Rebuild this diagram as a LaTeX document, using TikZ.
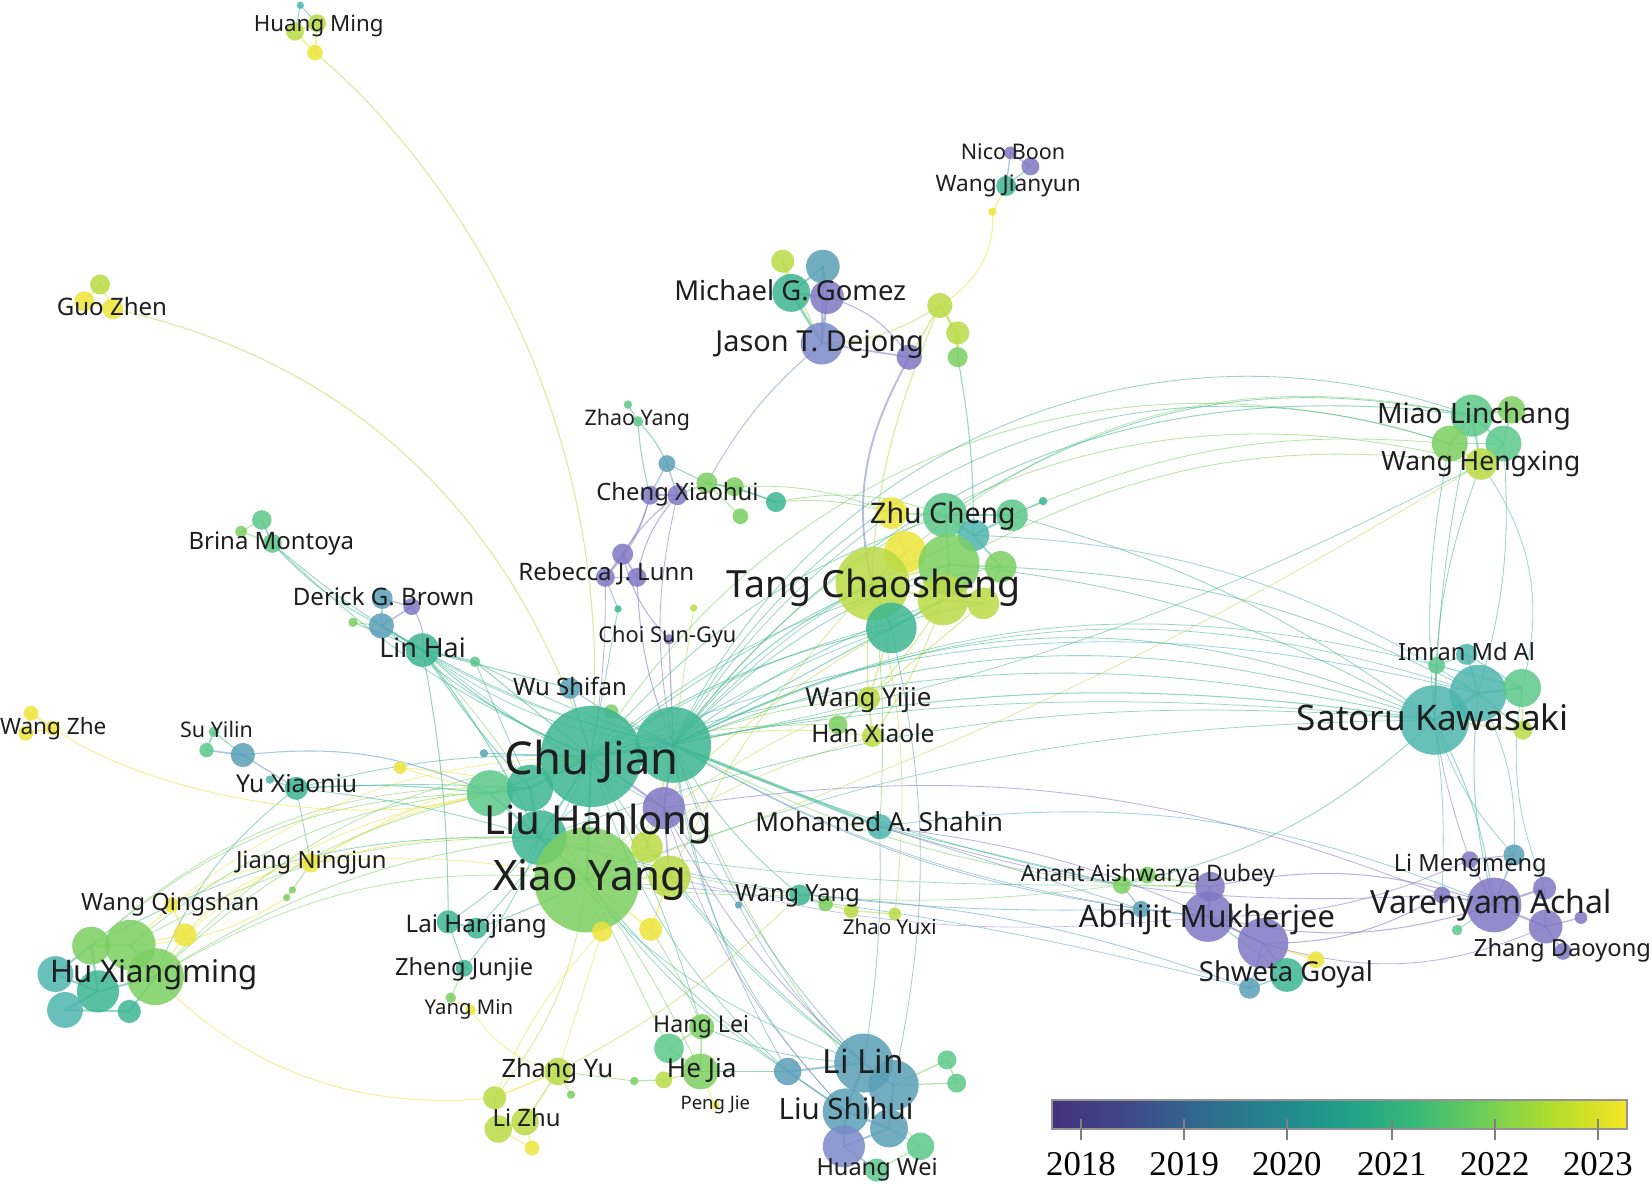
\documentclass[tikz,border=0pt]{standalone}
\usepackage{fontspec}
\usepackage{graphicx}
\newfontfamily\lblfont{Noto Sans}
\newfontfamily\numfont{Liberation Serif}
\definecolor{vpur}{HTML}{8078C4}
\definecolor{vblu}{HTML}{7A8AC8}
\definecolor{vtb}{HTML}{5A9FB8}
\definecolor{vteal}{HTML}{4DB5AE}
\definecolor{vtg}{HTML}{3DB692}
\definecolor{vgrn}{HTML}{5CC88A}
\definecolor{vlg}{HTML}{7CCF62}
\definecolor{vyg}{HTML}{B9DB45}
\definecolor{vyel}{HTML}{EDE43A}
\definecolor{lblc}{HTML}{1E1E1E}
\definecolor{c0}{HTML}{46327E}
\definecolor{c1}{HTML}{3F4788}
\definecolor{c2}{HTML}{31688E}
\definecolor{c3}{HTML}{26828E}
\definecolor{c4}{HTML}{1F9E89}
\definecolor{c5}{HTML}{35B779}
\definecolor{c6}{HTML}{6ECE58}
\definecolor{c7}{HTML}{B5DE2B}
\definecolor{c8}{HTML}{F4E524}
\pgfdeclarehorizontalshading{viridis}{100bp}{color(0bp)=(c0); color(25bp)=(c0); color(31.25bp)=(c1); color(37.5bp)=(c2); color(43.75bp)=(c3); color(50bp)=(c4); color(56.25bp)=(c5); color(62.5bp)=(c6); color(68.75bp)=(c7); color(75bp)=(c8); color(100bp)=(c8)}
\pgfdeclarelayer{back}
\pgfdeclarelayer{bg}
\pgfsetlayers{back,bg,main}
\tikzset{
  nd/.style={circle, inner sep=0pt, draw=none, fill opacity=0.85},
  ed/.style={draw=#1, draw opacity=0.55, line cap=round},
  lab/.style={anchor=base, inner sep=0pt, text=lblc, font=\lblfont},
  num/.style={anchor=base, inner sep=0pt, text=black, font=\numfont\fontsize{33}{36}\selectfont},
}
\newcommand\nd[5]{\node[nd, fill=#5, minimum size={2*#4}] (#1) at (#2,#3) {};}
\newcommand\lbl[5]{\node[lab] (#1) at (#2,#3) {\resizebox{#4pt}{!}{#5}};}
\newcommand\edges[2]{\foreach \a/\b/\k/\w in {#2} {\draw[ed=#1, line width=\w pt] (\a.center) to[bend left=\k] (\b.center);}}
\begin{document}
\begin{tikzpicture}[x=1pt, y=-1pt]
\begin{pgfonlayer}{back}
\fill[white] (0,0) rectangle (1568,1129);
\end{pgfonlayer}
\useasboundingbox (0,0) rectangle (1568,1129);
% ---------------- nodes ----------------
\nd{hm1}{285}{5}{3.5}{vteal}
\nd{hm2}{280}{30}{8.5}{vyg}
\nd{hm3}{301}{22}{8.5}{vyg}
\nd{hm4}{299}{50}{7.5}{vyel}
\nd{gz1}{95}{270}{9.5}{vyg}
\nd{gz2}{80}{286}{9.5}{vyel}
\nd{gz3}{107}{293}{10}{vyel}
\nd{nb1}{959}{145}{6}{vpur}
\nd{nb2}{978}{158}{8.5}{vpur}
\nd{wj}{955}{176.5}{9.5}{vtg}
\nd{wjy}{942}{201}{4}{vyel}
\nd{tc1}{892}{290}{12}{vyg}
\nd{tc2}{909}{316}{11}{vyg}
\nd{tc3}{909}{339}{9.5}{vlg}
\nd{jp}{863}{339}{12}{vpur}
\nd{mg1}{743}{248}{11}{vyg}
\nd{mg2}{781}{253}{16}{vtb}
\nd{mg3}{751}{278}{18}{vtg}
\nd{mg4}{785}{282}{16}{vpur}
\nd{jd}{780}{326}{20}{vblu}
\nd{zy1}{596}{384}{4}{vgrn}
\nd{zy2}{605.5}{400}{5}{vgrn}
\nd{cx0}{633}{440}{8}{vtb}
\nd{cx1}{617}{470}{9}{vpur}
\nd{cx2}{643}{470}{9.5}{vpur}
\nd{cx3}{671}{458.5}{10}{vlg}
\nd{cx4}{697}{462}{9}{vlg}
\nd{cx5}{736.5}{476.5}{9.5}{vtg}
\nd{cx6}{702.7}{490}{7.5}{vlg}
\nd{tdot}{990}{475.6}{4}{vtg}
\nd{rb1}{591}{526}{10}{vpur}
\nd{rb2}{574.5}{548}{9}{vpur}
\nd{rb3}{604.6}{548}{9}{vpur}
\nd{rbt}{586.6}{578}{3.5}{vtg}
\nd{rby}{658.4}{577}{3.5}{vyg}
\nd{cs}{634.9}{606.8}{5}{vpur}
\nd{zc1}{846}{487}{15}{vyel}
\nd{zc2}{897}{489}{21}{vgrn}
\nd{zc3}{960.5}{489}{15}{vgrn}
\nd{zc4}{924}{508}{15}{vteal}
\nd{ts1}{859}{524}{20}{vyel}
\nd{ts}{828}{554}{35}{vyg}
\nd{ts2}{900.7}{536}{29}{vlg}
\nd{ts3}{949.8}{538}{15}{vlg}
\nd{ts4}{895}{569.5}{24}{vyg}
\nd{ts5}{933.4}{572.6}{15}{vyg}
\nd{ts6}{846}{596}{24}{vtg}
\nd{wyj}{824.4}{662.8}{11}{vyg}
\nd{wyj2}{795.4}{688}{9}{vlg}
\nd{hxl}{828}{699}{10}{vyg}
\nd{ms}{835}{784.6}{12}{vteal}
\nd{bm1}{248.5}{493.5}{9.3}{vgrn}
\nd{bm2}{228.8}{504.6}{5.5}{vlg}
\nd{bm3}{258.4}{515.7}{9}{vgrn}
\nd{db1}{362.7}{568}{10}{vtb}
\nd{db2}{390.8}{575.8}{8}{vpur}
\nd{db3}{335}{590.7}{4.5}{vlg}
\nd{db4}{362}{594}{12}{vtb}
\nd{lh}{401}{617}{16}{vtg}
\nd{lhg}{450.8}{628}{5}{vgrn}
\nd{ws}{541}{653.3}{10}{vtb}
\nd{wsg}{580}{675.5}{7}{vlg}
\nd{wz1}{29.5}{677}{7}{vyel}
\nd{wz2}{50.2}{691}{7}{vyel}
\nd{wz3}{24.4}{696}{7}{vyel}
\nd{sy1}{203}{694.5}{5}{vgrn}
\nd{sy2}{196}{712}{6.8}{vgrn}
\nd{sy3}{230.5}{716.6}{11.5}{vtb}
\nd{yx0}{256}{740}{4}{vteal}
\nd{yx}{281.3}{748.2}{11}{vtg}
\nd{ysm}{379.7}{728.6}{6}{vyel}
\nd{bsm}{459.3}{715}{4}{vtb}
\nd{cj}{561}{718}{48}{vtg}
\nd{cj2}{639}{707}{36}{vtg}
\nd{cj3}{465}{753}{22}{vgrn}
\nd{cj4}{503}{748}{22}{vtg}
\nd{lhp}{630}{767}{20}{vpur}
\nd{lht}{512}{795}{26}{vtg}
\nd{xy}{557}{835}{50}{vlg}
\nd{xy2}{635.5}{832}{20}{vyg}
\nd{xy3}{614}{804}{15}{vyg}
\nd{xy4}{571.4}{884.3}{9.5}{vyel}
\nd{xy5}{617.6}{882}{11}{vyel}
\nd{jn}{295}{819}{9}{vyel}
\nd{jng1}{277.5}{844.7}{3.5}{vlg}
\nd{jng2}{272}{852}{3.5}{vlg}
\nd{wq}{162.7}{859}{7}{vyel}
\nd{wq2}{175.6}{887.4}{11}{vyel}
\nd{hx1}{86.5}{897.6}{18}{vlg}
\nd{hx2}{123.7}{897}{24}{vlg}
\nd{hx3}{147.5}{927}{27}{vlg}
\nd{hx4}{52.6}{924.5}{17}{vteal}
\nd{hx5}{93}{941}{20}{vtg}
\nd{hx6}{61.7}{958.6}{17}{vteal}
\nd{hx7}{122.7}{960}{11}{vtg}
\nd{lj1}{425.5}{875}{11}{vtg}
\nd{lj2}{452.5}{881}{10}{vtg}
\nd{zj}{440.6}{919}{8}{vtg}
\nd{ym1}{427.8}{947}{5}{vlg}
\nd{ym2}{446.8}{958.6}{5}{vyel}
\nd{wy0}{701}{859}{3.5}{vtb}
\nd{wy}{759}{849.5}{10}{vtg}
\nd{wy2}{783.6}{858}{7}{vlg}
\nd{wy3}{808}{864.4}{7}{vyg}
\nd{zyx}{849.3}{867.5}{6}{vyg}
\nd{zyu}{529.6}{1017}{13}{vyg}
\nd{zyu2}{542}{1039}{4}{vlg}
\nd{lz1}{469.5}{1042}{11}{vyg}
\nd{lz2}{472.9}{1071.6}{13}{vyg}
\nd{lz3}{498.3}{1064.6}{13}{vyg}
\nd{lz4}{505}{1089.7}{7}{vyel}
\nd{hl1}{666}{974.5}{12}{vlg}
\nd{hl2}{635}{995}{14}{vgrn}
\nd{hj}{664.8}{1017}{17}{vlg}
\nd{hj2}{630}{1025}{8}{vyg}
\nd{hj3}{602}{1026}{4}{vlg}
\nd{pj}{678.6}{1048.8}{4}{vyel}
\nd{ll0}{747.6}{1017}{13}{vtb}
\nd{ll}{819.8}{1009}{28}{vtb}
\nd{ll2}{848}{1030}{24}{vtb}
\nd{ls}{802.8}{1055}{22}{vtb}
\nd{ls2}{843.8}{1071}{18}{vtb}
\nd{hw0}{801}{1088}{20}{vblu}
\nd{hw1}{873.7}{1088}{13}{vgrn}
\nd{llg1}{898.8}{1006}{9}{vgrn}
\nd{llg2}{908}{1028}{9}{vgrn}
\nd{hw}{832}{1110.5}{11}{vgrn}
\nd{ml1}{1397}{394.5}{20}{vgrn}
\nd{ml2}{1434.7}{389}{13}{vlg}
\nd{ml3}{1376}{421}{17}{vlg}
\nd{ml4}{1427}{421}{17}{vgrn}
\nd{whx}{1405.6}{440.4}{15}{vyg}
\nd{im1}{1392}{621}{10}{vteal}
\nd{im2}{1363.5}{631.5}{8}{vgrn}
\nd{sk}{1361.5}{683.4}{33}{vteal}
\nd{sk2}{1403}{658}{27}{vteal}
\nd{sk3}{1444.6}{653}{18}{vgrn}
\nd{sk4}{1445.5}{693}{9}{vyg}
\nd{lm1}{1437}{811.5}{10}{vtb}
\nd{lm2}{1395}{816}{8}{vpur}
\nd{va}{1418}{859}{26}{vpur}
\nd{va2}{1466}{843}{11}{vpur}
\nd{va3}{1467}{879.5}{16}{vpur}
\nd{va4}{1500.6}{871}{6}{vpur}
\nd{va5}{1368.6}{849.5}{8}{vpur}
\nd{zd}{1483.5}{903}{8}{vpur}
\nd{vag}{1383}{882.7}{5}{vgrn}
\nd{ad1}{1064.7}{840}{8.5}{vlg}
\nd{ad2}{1089}{830.5}{8}{vlg}
\nd{ab1}{1148.5}{841.6}{14}{vpur}
\nd{ab0}{1083}{863}{8}{vtb}
\nd{ab}{1146.6}{870}{24}{vpur}
\nd{ab2}{1198.8}{895.3}{24}{vpur}
\nd{sg}{1249}{911}{8}{vyel}
\nd{sg2}{1221.5}{925.4}{16}{vtg}
\nd{sg3}{1186}{938}{10}{vtb}
% ---------------- edges ----------------
\begin{pgfonlayer}{bg}
\edges{vyel}{hm2/hm4/0/1.5, hm3/hm4/0/1.5, gz1/gz2/0/1.5, gz1/gz3/0/1.5, gz2/gz3/0/1.5, wz1/wz2/0/1.5, wz2/wz3/0/1.5, wz1/wz3/0/1.5, wj/wjy/0/1, wq/wq2/0/1.5, wq/hx2/0/1, wq2/hx3/0/1, wq2/hx2/0/1, jn/cj3/10/0.8, jn/lht/8/0.8, jn/xy/8/0.8, wq/jn/15/0.8, wq2/jn/20/0.8, wq2/cj3/15/0.8, ysm/cj3/0/0.8, ysm/cj4/5/0.8, ym1/ym2/0/1, ym2/zyu/-20/0.8, xy/xy4/0/1.5, xy/xy5/0/1.5, xy4/zyu/0/0.8, xy4/lz1/-10/0.8, lz3/lz4/0/1, lz2/lz4/0/1, hj/pj/0/1, xy5/xy2/0/1.5, ts1/zc1/0/1.5, ts/ts1/0/1.5, jng2/hx2/15/0.8, zyu/lz1/0/1.5, sg/ab2/0/1.5, sg/sg2/0/1, wq/cj/18/0.7, jn/cj/10/0.7}
\edges{vyg}{hm2/hm3/0/1.5, mg1/mg3/0/2, mg1/jd/0/1.2, tc1/tc2/0/2, tc2/tc3/0/2, tc1/tc3/15/1.2, jp/tc1/0/1.5, jd/tc1/-15/1, ts/ts2/0/2, ts2/ts4/0/2, ts4/ts5/0/2, ts/ts4/0/2, ts/wyj/-5/1, ts4/wyj/5/1, ts6/wyj/0/1.2, ts4/hxl/8/1, wyj/hxl/0/1.5, hxl/cj2/-10/0.8, ts4/xy/-10/0.8, ts/xy2/-8/0.8, zyu/lz3/0/1.5, lz1/lz2/0/1.5, lz2/lz3/0/1.5, zyu/zyu2/0/1, hj2/hj/0/1.2, wy2/wy3/0/1.5, wy3/zyx/0/1.2, zyu/wy/-8/0.8, zyx/ts/-10/0.8, sk3/sk4/0/1.5, sk/sk4/0/1.5, ml3/whx/0/2, ml4/whx/0/2, xy/xy2/0/2, xy/xy3/0/2, cj2/xy3/0/1.5, lz1/xy/-15/0.8, ts5/wyj/0/1, rby/cj2/0/0.8, hxl/xy/-10/0.7, wyj/xy/-10/0.7, xy/whx/-6/0.7}
\edges{vlg}{cx3/cx4/0/1.5, cx6/cx3/0/1, cx2/cx3/0/1.5, cx5/zc1/10/0.8, cx5/zc2/15/0.8, cx4/zc1/12/0.8, ts2/ts3/0/1.5, ts3/ts5/0/1.5, zc2/ts2/0/2, zc1/zc2/0/1.5, wyj2/wyj/0/1.2, wyj/cj2/-8/0.8, wyj2/cj/-8/0.8, zc3/ml3/14/0.8, ts2/whx/18/0.8, cj2/whx/34/0.8, cj/ml3/38/0.8, bm2/bm1/0/1, bm2/bm3/0/1, db3/db4/0/1, xy5/hl1/5/0.8, xy/hj/5/0.8, xy/hl2/0/0.8, hj3/hj2/0/1, hj3/zyu/0/0.8, hj/hl1/0/1.5, hl1/hl2/0/1.5, hl2/hj/0/1.5, wsg/cj2/0/1, wsg/cj/0/1, jn/jng1/0/1, jng1/jng2/0/1, hx1/hx2/0/2, hx2/hx3/0/2, hx3/cj3/15/0.8, hx2/cj4/18/0.8, hx1/cj3/20/0.8, hx3/lht/12/0.8, ad1/ad2/0/1.5, ad1/ab1/0/1.5, ad2/ab1/0/1.5, ad1/cj2/10/0.8, wy/wy2/0/1.5, wy/xy/5/0.8, ms/ts/-5/0.8, cj/cj3/0/2, ml1/ml3/0/2, ml2/ml1/0/2, sk3/sk2/0/2, im2/sk/0/1.5, ym1/zj/0/1, ll2/llg1/0/1.2, llg1/llg2/0/1.2, ll2/llg2/0/1.2, hw1/hw/0/1.2, ls2/hw1/0/1.2, cj2/hw1/-10/0.8, hx3/cj/20/0.7, hx2/lht/15/0.7, hx3/xy/18/0.7, hx1/cj4/22/0.7, ad1/lht/12/0.7, ts/ml1/28/0.7, lh/xy/5/0.7}
\edges{vtg}{cj/cj2/0/3, cj/cj4/0/2, cj/lht/0/2, cj/xy/0/2.5, lht/xy/0/2, cj4/lht/0/2, cj3/lht/0/2, cj4/cj3/0/2, mg2/mg3/0/2, mg3/jd/0/2.5, mg3/mg4/0/2, zy2/cx0/10/1, zy1/zy2/0/1, zy2/cx1/-5/1, cx0/cx3/0/1, cx3/cx5/5/1, cx4/cx5/0/1.2, zc3/tdot/0/1, zc2/zc3/0/2, zc2/zc4/0/2, zc3/zc4/0/2, ts/ts6/0/2, ts6/ts4/0/2, zc4/ts3/0/1.5, ts6/cj/-10/1, ts/cj2/-12/1, zc2/cj/-15/0.8, ts2/cj2/-12/0.8, ts2/sk/12/0.8, zc3/sk/10/0.8, ts3/sk2/12/0.8, zc2/ml1/22/0.8, cj2/ml1/30/0.9, cj2/ml1/42/0.8, cj2/sk/10/1, cj2/sk/20/0.8, cj2/sk/25/0.8, cj/sk/15/0.8, cj/sk/8/0.7, cj2/sk2/22/0.7, lht/sk/12/0.7, cj2/im2/20/0.7, xy/sk/10/0.7, cj2/whx/-8/0.7, tc3/zc4/5/1, bm1/bm3/0/1.5, bm3/db4/-10/0.8, bm3/lh/-5/0.8, bm3/cj/-10/0.8, db3/lh/0/1, db4/lh/0/2, lh/lhg/0/1.5, lh/cj/-10/1, lh/cj4/-5/1, lh/lht/5/1.2, lhg/cj/0/1, lhg/cj2/-5/0.8, lh/ws/0/1, db4/cj/-8/0.8, lh/lj1/5/1, lh/cj2/-8/0.8, lh/cj2/-15/0.7, lh/lhp/-5/0.7, db4/cj2/-10/0.7, lhg/cj4/0/0.8, yx/cj3/5/1, yx/cj/8/0.8, yx/lht/5/0.8, yx/hx3/-15/0.8, yx/jn/0/0.8, yx/cj4/3/0.8, sy1/sy2/0/1.5, sy1/sy3/0/1, hx1/hx5/0/2, hx4/hx5/0/2, hx5/hx6/0/2, hx5/hx3/0/2, hx3/hx7/0/2, hx6/hx7/0/2, hx1/hx4/0/2, hx1/lht/15/0.8, lj1/lj2/0/1.5, lj1/lht/-10/0.8, lj2/xy/-5/1, lj1/zj/0/1, zj/lht/-10/0.8, lj2/cj/-10/0.8, hj/ll0/0/0.8, hl1/ll/-10/0.8, cj/hl1/5/0.8, cj/ll/-10/0.8, xy/ls/-8/0.8, wy/cj2/10/0.8, ms/cj2/0/3, sg2/sg3/0/1.2, ab2/sg2/0/1.5, ab/sg2/0/1, sk/ad1/15/0.8, cj2/ad1/-5/0.8, im1/im2/0/1, im2/sk3/0/1, sk2/ml4/-10/0.8, sk/whx/10/0.8, sk/ml3/8/0.8, sk/ml1/5/0.8, cj2/ml3/40/0.8, rbt/cj/0/0.8, ts6/cj2/0/1, ts/cj/-5/0.8, zc1/cj2/-10/0.7, ts4/cj2/-8/0.8, ts5/cj/-10/0.7, zc4/cj2/-12/0.7, ts3/cj/-15/0.7, ts6/lht/-10/0.7, cj/ll0/-15/0.7, lht/ll/-15/0.7, xy/ll0/-10/0.7, cj2/ls/-18/0.7, xy3/ll/-8/0.7, ms/ad1/0/0.8, ad1/lht/5/0.6}
\edges{vteal}{hm1/hm2/0/1, hm1/hm3/0/1, sk/sk2/0/3, sk2/sk3/0/2, sk2/sk4/0/1.5, im1/sk2/0/1.5, im1/sk3/0/1.2, sk/va/10/1, sk2/va/-10/1, sk/lm1/-12/0.8, sk2/lm1/15/0.8, sk3/va2/-15/0.8, sk/va5/5/0.8, sk3/whx/-25/0.8, yx0/yx/0/1, zc4/sk2/15/0.8, cj/sk2/18/0.8, ms/va/15/0.8}
\edges{vtb}{mg2/mg4/0/2, mg2/jd/0/2, nb1/wj/0/1.2, nb2/wj/0/1.2, cx0/cx1/0/1.2, cx0/cx2/0/1.2, rb2/rbt/0/1, db1/db4/0/1.5, db1/db2/0/1.2, ws/cj/0/1.2, ws/cj2/-5/1, sy2/sy3/0/1.5, sy3/cj3/15/1, sy3/yx/0/1.2, bsm/cj/0/1, ab0/ab/0/1.5, ab0/ad1/0/1, ab0/lht/8/0.8, ab/cj2/12/0.8, sg3/wy/-8/0.8, ab2/sg3/0/1.2, ll0/ll/0/2, ll/ll2/0/2, ll/ls/0/2, ls/ls2/0/2, ll2/ls2/0/2, ll0/ls/0/1.5, ls/hw0/0/2, ls2/hw0/0/2, hw0/hw/0/1.5, ll2/ts6/-12/0.8, ll/ms/-5/0.8, cj2/ll0/-10/0.8, cj2/ll/-12/0.8, wy0/lhp/0/0.8, lm1/va/0/1.5, wy0/ll/-10/0.7, ab0/cj2/10/0.7, ms/ab0/0/0.8, sg3/xy/-5/0.7}
\edges{vpur}{nb1/nb2/0/1.5, mg4/jd/0/2.5, mg4/jp/20/1, jd/jp/0/1.5, cx1/cx2/0/1.5, cx1/rb1/10/1, cx2/rb1/-10/1, cx1/rb2/15/1, cx2/rb3/-15/1, rb1/rb2/0/1.5, rb1/rb3/0/1.5, rb2/rb3/0/1.5, rb1/cs/-15/1, cs/cj2/0/1.2, rb3/cj2/-10/1, cx2/cj2/-12/0.8, rb2/cj/5/0.8, db2/db4/0/1.2, db2/lh/20/1, lhp/cj2/0/2, lhp/cj/0/2, lhp/xy2/0/1.5, lhp/ll/-10/0.8, lhp/va5/15/0.8, va/va2/0/2, va/va3/0/2, va3/va4/0/1.2, va/va5/0/1.5, va/lm2/0/1.2, va3/zd/0/1.2, va2/va3/0/1.2, lm2/lm1/0/1, va/ab/15/1, va5/ab2/15/1, va/ab1/-15/1, lm2/ab/12/0.8, va3/ab2/20/0.8, ab/ab1/0/2, ab/ab2/0/2, ab2/ms/-10/0.8, ms/va5/-10/0.8, sk/lm2/-5/0.8, lhp/ls/-12/0.7, ab/xy2/10/0.6}
\edges{vgrn}{va/vag/0/1, ml1/ml4/0/2, ml1/whx/0/2, ml3/ml4/0/1.5, ml2/ml4/0/1.5}
\edges{vblu}{jd/cx3/-10/0.9}
\draw[ed=vyg, line width=1pt] (hm4.center) .. controls (430,160) and (590,400) .. (cj.center);
\draw[ed=vyg, line width=1pt] (gz3.center) .. controls (285,332) and (470,440) .. (cj.center);
\draw[ed=vyel, line width=1pt] (wjy.center) .. controls (945,240) and (925,270) .. (tc1.center);
\draw[ed=vblu, line width=1.8pt] (jp.center) .. controls (830,400) and (805,460) .. (ts.center);
\draw[ed=vyg, line width=1pt] (tc1.center) .. controls (855,380) and (830,450) .. (ts.center);
\draw[ed=vyel, line width=0.9pt] (hx3.center) .. controls (260,1045) and (390,1050) .. (lz1.center);
\draw[ed=vyel, line width=0.9pt] (wz2.center) .. controls (150,760) and (350,790) .. (cj3.center);
\end{pgfonlayer}
% ---------------- labels ----------------
\lbl{lHM}{302.5}{30}{123}{Huang Ming}
\lbl{lGZ}{106.25}{299}{104.5}{Guo Zhen}
\lbl{lNB}{961.5}{151}{99}{Nico Boon}
\lbl{lWJ}{957}{182}{138}{Wang Jianyun}
\lbl{lMG}{750}{285}{220}{Michael G. Gomez}
\lbl{lJD}{778}{334}{198}{Jason T. Dejong}
\lbl{lZY}{605}{404}{100}{Zhao Yang}
\lbl{lCX}{643}{475}{154}{Cheng Xiaohui}
\lbl{lML}{1399}{402}{184}{Miao Linchang}
\lbl{lWH}{1405.5}{447}{189}{Wang Hengxing}
\lbl{lZC}{895}{497}{138}{Zhu Cheng}
\lbl{lTC}{829.5}{567}{279}{Tang Chaosheng}
\lbl{lBM}{257.5}{522}{157}{Brina Montoya}
\lbl{lDB}{364}{575}{172}{Derick G. Brown}
\lbl{lLH}{401}{624}{82}{Lin Hai}
\lbl{lRL}{575.5}{551}{167}{Rebecca J. Lunn}
\lbl{lCS}{633.5}{610}{131}{Choi Sun-Gyu}
\lbl{lWS}{541}{660}{108}{Wu Shifan}
\lbl{lIM}{1392}{627}{130}{Imran Md Al}
\lbl{lSK}{1360}{693}{258}{Satoru Kawasaki}
\lbl{lWZ}{50.5}{697}{101}{Wang Zhe}
\lbl{lSY}{205.5}{700}{69}{Su Yilin}
\lbl{lYX}{281.5}{752}{115}{Yu Xiaoniu}
\lbl{lWYJ}{824.25}{671}{119.5}{Wang Yijie}
\lbl{lHXL}{828.5}{705}{117}{Han Xiaole}
\lbl{lCJ}{561.5}{735}{165}{Chu Jian}
\lbl{lLHL}{568}{792}{216}{Liu Hanlong}
\lbl{lXY}{559.5}{845}{183}{Xiao Yang}
\lbl{lMS}{834.5}{789}{235}{Mohamed A. Shahin}
\lbl{lAD}{1089.5}{837}{241}{Anant Aishwarya Dubey}
\lbl{lAB}{1145.5}{880}{243}{Abhijit Mukherjee}
\lbl{lSG}{1220.5}{932}{165}{Shweta Goyal}
\lbl{lLM}{1395.5}{827}{145}{Li Mengmeng}
\lbl{lVA}{1415.5}{867}{229}{Varenyam Achal}
\lbl{lZD}{1483}{908}{168}{Zhang Daoyong}
\lbl{lJN}{295.5}{824}{143}{Jiang Ningjun}
\lbl{lWQ}{161.5}{864}{169}{Wang Qingshan}
\lbl{lHX}{146.25}{933}{197.5}{Hu Xiangming}
\lbl{lLJ}{452}{885}{134}{Lai Hanjiang}
\lbl{lZJ}{440.5}{926}{131}{Zheng Junjie}
\lbl{lYM}{445}{963}{84}{Yang Min}
\lbl{lWY}{757}{856}{118}{Wang Yang}
\lbl{lZYX}{844.5}{887}{89}{Zhao Yuxi}
\lbl{lHL}{665.5}{980}{91}{Hang Lei}
\lbl{lHJ}{666}{1023}{66}{He Jia}
\lbl{lPJ}{679}{1053}{66}{Peng Jie}
\lbl{lZYU}{529}{1023}{106}{Zhang Yu}
\lbl{lLZ}{499.75}{1069}{64.5}{Li Zhu}
\lbl{lLL}{819.5}{1019}{77}{Li Lin}
\lbl{lLS}{803}{1063}{128}{Liu Shihui}
\lbl{lHW}{832.5}{1116}{115}{Huang Wei}
% ---------------- colour bar ----------------
\shade[shading=viridis] (998.5,1044) rectangle (1544,1071.3);
\draw[gray!85, line width=1.6pt] (998.5,1044) rectangle (1544,1071.3);
\foreach \x/\yr in {1026/2018, 1124/2019, 1221.4/2020, 1321/2021, 1418.8/2022, 1516.6/2023} {
  \draw[gray, line width=1.6pt] (\x,1062.4) -- (\x,1082);
  \node[num] (y\yr) at (\x,1116) {\yr};
}
\end{tikzpicture}
\end{document}
